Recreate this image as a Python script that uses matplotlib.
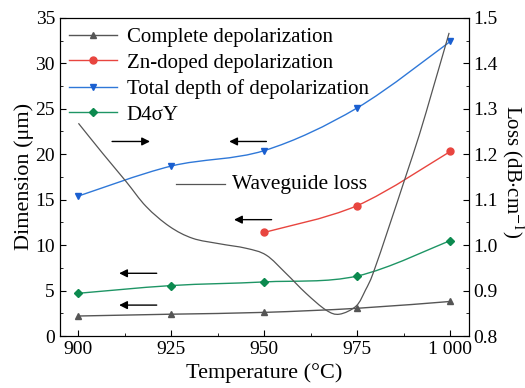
import matplotlib
matplotlib.use("Agg")
import matplotlib.pyplot as plt
from matplotlib.path import Path
from matplotlib.patches import PathPatch
from matplotlib.ticker import MultipleLocator

plt.rcParams['font.family'] = ['Liberation Serif', 'DejaVu Serif']
plt.rcParams['mathtext.fontset'] = 'stix'

temps = [900, 925, 950, 975, 1000]
complete_depol = [2.2, 2.4, 2.6, 3.05, 3.8]
zn_temps = [950, 975, 1000]
zn_depol = [11.4, 14.35, 20.3]
total_depth = [15.4, 18.7, 20.4, 25.1, 32.4]
d4sigma_y = [4.7, 5.55, 5.95, 6.6, 10.5]

# waveguide loss curve
loss_temps = [900, 906.5, 912.8, 918.2, 924.5, 930.7, 937.9, 945.1, 950.5, 955.8,
              961.2, 966.6, 970.2, 974.7, 977.2, 979.3, 983.6, 987.9, 991.7, 995.2,
              998.4, 999.7]
loss_vals = [1.268, 1.202, 1.140, 1.085, 1.041, 1.015, 1.003, 0.993, 0.978, 0.938,
             0.894, 0.857, 0.848, 0.866, 0.901, 0.939, 1.042, 1.148, 1.243, 1.340,
             1.430, 1.467]

# arrows: (x_start, x_end, y) in left-axis data units
arrows = [(908.3, 920.0, 21.4), (951.3, 939.8, 21.4), (952.7, 941.1, 12.8),
          (921.8, 910.2, 6.9), (921.8, 910.2, 3.4)]


def smooth_line(ax, xs, ys, **kw):
    # catmull-rom style bezier through the points
    pts = list(zip(xs, ys))
    verts = [pts[0]]
    codes = [Path.MOVETO]
    n = len(pts)
    for i in range(n - 1):
        p0 = pts[max(i - 1, 0)]
        p1 = pts[i]
        p2 = pts[i + 1]
        p3 = pts[min(i + 2, n - 1)]
        c1 = (p1[0] + (p2[0] - p0[0]) / 6, p1[1] + (p2[1] - p0[1]) / 6)
        c2 = (p2[0] - (p3[0] - p1[0]) / 6, p2[1] - (p3[1] - p1[1]) / 6)
        verts += [c1, c2, p2]
        codes += [Path.CURVE4] * 3
    ax.add_patch(PathPatch(Path(verts, codes), fill=False, **kw))


fig = plt.figure(figsize=(5.25, 3.88), dpi=100)
ax = fig.add_axes([0.114, 0.134, 0.779, 0.820])
ax2 = ax.twinx()

series = [
    (temps, complete_depol, '#555555', '#555555', '^', 5, 'Complete depolarization'),
    (zn_temps, zn_depol, '#e8453f', '#e8453f', 'o', 5, 'Zn-doped depolarization'),
    (temps, total_depth, '#2f78d8', '#1a5fd0', 'v', 5, 'Total depth of depolarization'),
    (temps, d4sigma_y, '#1e9565', '#0c8a4f', 'D', 4.5, 'D4σY'),
]
for xs, ys, lc, mc, mk, ms, lab in series:
    smooth_line(ax, xs, ys, edgecolor=lc, lw=1)
    ax.plot(xs, ys, ls='none', marker=mk, ms=ms, mfc=mc, mec=mc)
    ax.plot([], [], color=lc, lw=1, marker=mk, ms=ms, mfc=mc, mec=mc, label=lab)

smooth_line(ax2, loss_temps, loss_vals, edgecolor='#555555', lw=0.9)

for x0, x1, y in arrows:
    ax.annotate('', xy=(x1, y), xytext=(x0, y),
                arrowprops=dict(arrowstyle='-|>', color='black', lw=1, mutation_scale=12))

# waveguide loss label
ax.plot([926.3, 939.3], [16.7, 16.7], color='#555555', lw=0.9)
ax.text(941.2, 16.7, 'Waveguide loss', fontsize=15.5, va='center', ha='left')

ax.set_xlim(895, 1005)
ax.set_ylim(0, 35)
ax2.set_ylim(0.8, 1.5)
ax.set_xticks(temps)
ax.set_xticklabels(['900', '925', '950', '975', '1 000'])
ax.xaxis.set_minor_locator(MultipleLocator(12.5))
ax.yaxis.set_major_locator(MultipleLocator(5))
ax.yaxis.set_minor_locator(MultipleLocator(2.5))
ax2.yaxis.set_minor_locator(MultipleLocator(0.05))
ax2.set_yticks([0.8, 0.9, 1.0, 1.1, 1.2, 1.3, 1.4, 1.5])
ax2.set_yticklabels(['0.8', '0.9', '1.0', '1.1', '1.2', '1.3', '1.4', '1.5'])

for a in (ax, ax2):
    a.tick_params(which='both', direction='in', labelsize=14, top=False)
    a.tick_params(which='major', length=4)
    a.tick_params(which='minor', length=2.5)

ax.set_xlabel('Temperature (°C)', fontsize=16, labelpad=4)
ax.set_ylabel('Dimension (μm)', fontsize=16, labelpad=1)
fig.text(513 / 525, 1 - 172 / 388, r'Loss (dB$\cdot$cm$^{-1}$)', fontsize=15,
         rotation=270, ha='center', va='center')

ax.legend(loc='upper left', frameon=False, fontsize=15, handlelength=2.3,
          borderaxespad=0.2, borderpad=0.25, labelspacing=0.3, handletextpad=0.45)

fig.savefig('out.png', dpi=100)
